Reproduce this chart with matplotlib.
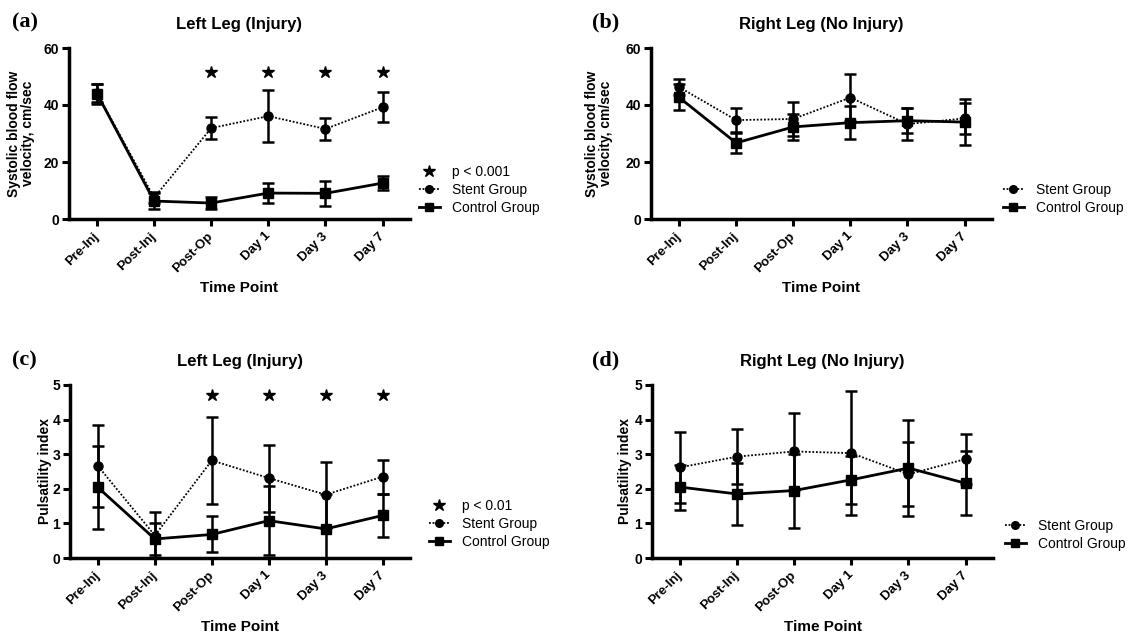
import matplotlib
matplotlib.use('Agg')
import matplotlib.pyplot as plt
from matplotlib.lines import Line2D

time_points = ['Pre-Inj', 'Post-Inj', 'Post-Op', 'Day 1', 'Day 3', 'Day 7']

# (a) left leg velocity
a_stent = [44.2, 7.5, 31.9, 36.1, 31.6, 39.2]
a_stent_err = [3.0, 2.0, 4.0, 9.0, 4.0, 5.3]
a_ctrl = [44.0, 6.3, 5.6, 9.1, 9.0, 12.6]
a_ctrl_err = [3.5, 2.8, 2.0, 3.6, 4.3, 2.4]
a_sig = [2, 3, 4, 5]

# (b) right leg velocity
b_stent = [46.3, 34.7, 35.1, 42.6, 33.3, 35.3]
b_stent_err = [2.8, 4.3, 6.0, 8.3, 5.7, 5.5]
b_ctrl = [42.7, 26.7, 32.3, 33.8, 34.5, 34.0]
b_ctrl_err = [4.5, 3.5, 4.5, 5.8, 4.3, 8.0]

# (c) left leg pulsatility
c_stent = [2.66, 0.65, 2.82, 2.31, 1.83, 2.35]
c_stent_err = [1.18, 0.68, 1.25, 0.97, 0.95, 0.49]
c_ctrl = [2.04, 0.55, 0.68, 1.08, 0.84, 1.23]
c_ctrl_err = [1.2, 0.47, 0.52, 0.99, 1.0, 0.62]
c_sig = [2, 3, 4, 5]

# (d) right leg pulsatility
d_stent = [2.62, 2.93, 3.08, 3.03, 2.42, 2.86]
d_stent_err = [1.03, 0.8, 1.12, 1.8, 0.93, 0.71]
d_ctrl = [2.05, 1.85, 1.95, 2.26, 2.60, 2.16]
d_ctrl_err = [0.65, 0.9, 1.07, 0.7, 1.4, 0.93]

plt.rcParams['font.family'] = ['Liberation Sans', 'DejaVu Sans']

W, H = 1127, 634
fig = plt.figure(figsize=(W / 100, H / 100), dpi=100)


def px_axes(left, top, right, bottom):
    return fig.add_axes([left / W, 1 - bottom / H, (right - left) / W, (bottom - top) / H])


def draw_panel(ax, stent, stent_err, ctrl, ctrl_err, ymax, yticks, ylabel, ylab_x,
               title, sig=None, sig_y=None):
    x = list(range(len(time_points)))
    ax.errorbar(x, ctrl, yerr=ctrl_err, color='black', linestyle='-', linewidth=2.0,
                marker='s', markersize=6.5, capsize=4, elinewidth=1.8, capthick=1.8)
    ax.errorbar(x, stent, yerr=stent_err, color='black', linestyle=(0, (1, 1)),
                linewidth=1.3, marker='o', markersize=6.5, capsize=4, elinewidth=1.8,
                capthick=1.8)
    if sig is not None:
        ax.plot(sig, [sig_y] * len(sig), linestyle='none', marker='*', color='black',
                markersize=9)
    ax.set_xlim(-0.49, 5.48)
    ax.set_ylim(0, ymax)
    ax.set_yticks(yticks)
    ax.set_xticks(x)
    ax.set_xticklabels(time_points, rotation=45, ha='right', va='center',
                       rotation_mode='anchor', fontsize=9.5, fontweight='bold')
    ax.tick_params(axis='y', labelsize=10)
    for lab in ax.get_yticklabels():
        lab.set_fontweight('bold')
    ax.tick_params(direction='out', length=5, width=2.2, pad=2)
    ax.tick_params(axis='x', pad=6)
    for side in ['top', 'right']:
        ax.spines[side].set_visible(False)
    for side in ['left', 'bottom']:
        ax.spines[side].set_linewidth(2.5)
    ax.set_ylabel(ylabel, fontsize=10, fontweight='bold', linespacing=1.0)
    ax.yaxis.set_label_coords(ylab_x, 0.5)
    ax.set_xlabel('Time Point', fontsize=11, fontweight='bold')
    ax.xaxis.set_label_coords(0.5, -0.36)
    ax.text(0.5, 1.135, title, transform=ax.transAxes, ha='center', va='center',
            fontsize=12, fontweight='bold')


def add_legend(ax, x0, y0, star_label=None):
    handles = []
    labels = []
    if star_label is not None:
        handles.append(Line2D([], [], linestyle='none', marker='*', color='black',
                              markersize=9))
        labels.append(star_label)
    handles.append(Line2D([], [], linestyle=(0, (1, 1)), linewidth=1.3, marker='o',
                          markersize=5.5, color='black'))
    labels.append('Stent Group')
    handles.append(Line2D([], [], linestyle='-', linewidth=2.0, marker='s',
                          markersize=5.5, color='black'))
    labels.append('Control Group')
    ax.legend(handles, labels, loc='upper left', bbox_to_anchor=(x0 / W, 1 - y0 / H),
              bbox_transform=fig.transFigure, frameon=False, fontsize=10,
              handlelength=1.5, handletextpad=0.9, labelspacing=0.3, borderpad=0,
              borderaxespad=0)


vel_label = 'Systolic blood flow\nvelocity, cm/sec'
pi_label = 'Pulsatility index'

ax_a = px_axes(69, 48, 410, 219)
draw_panel(ax_a, a_stent, a_stent_err, a_ctrl, a_ctrl_err, 60, [0, 20, 40, 60],
           vel_label, -0.1, 'Left Leg (Injury)', a_sig, 51.5)
add_legend(ax_a, 419, 165, 'p < 0.001')

ax_b = px_axes(651, 48, 992, 219)
draw_panel(ax_b, b_stent, b_stent_err, b_ctrl, b_ctrl_err, 60, [0, 20, 40, 60],
           vel_label, -0.111, 'Right Leg (No Injury)')
add_legend(ax_b, 1003, 183)

ax_c = px_axes(70, 385, 410, 558)
draw_panel(ax_c, c_stent, c_stent_err, c_ctrl, c_ctrl_err, 5, [0, 1, 2, 3, 4, 5],
           pi_label, -0.053, 'Left Leg (Injury)', c_sig, 4.7)
add_legend(ax_c, 429, 499, 'p < 0.01')

ax_d = px_axes(652, 385, 993, 558)
draw_panel(ax_d, d_stent, d_stent_err, d_ctrl, d_ctrl_err, 5, [0, 1, 2, 3, 4, 5],
           pi_label, -0.059, 'Right Leg (No Injury)')
add_legend(ax_d, 1005, 519)

for lab, px, py in [('(a)', 12, 22), ('(b)', 592, 22), ('(c)', 12, 360), ('(d)', 592, 360)]:
    fig.text(px / W, 1 - py / H, lab, ha='left', va='center', fontsize=16,
             fontweight='bold', family=['Liberation Serif', 'DejaVu Serif'])

fig.savefig('out.png', dpi=100)
